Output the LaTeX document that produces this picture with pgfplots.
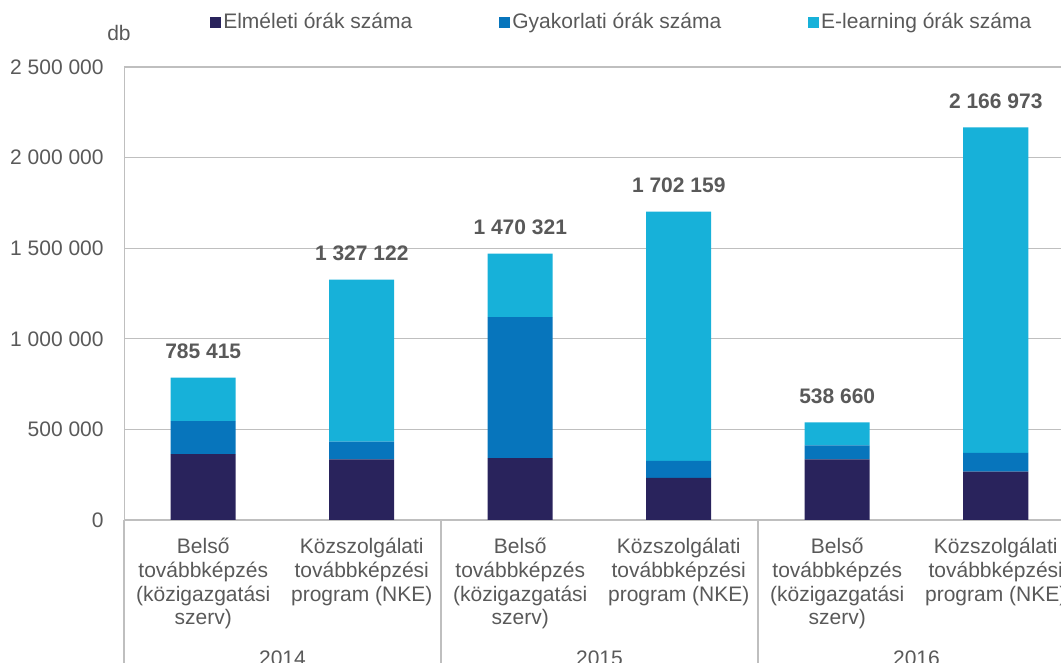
\documentclass[border=0pt]{standalone}
\usepackage{pgfplots}
\pgfplotsset{compat=1.18}
\usepackage{fontspec}
\setmainfont{Liberation Sans}
\definecolor{cEl}{HTML}{29235C}
\definecolor{cGy}{HTML}{0775BC}
\definecolor{cEL}{HTML}{17B1D9}
\definecolor{txt}{HTML}{595959}
\definecolor{grd}{HTML}{BFBFBF}
\pgfplotsset{geom/.style={
  at={(0pt,0pt)}, anchor=south west,
  scale only axis, width=475.5pt, height=226.5pt,
  xmin=-0.5, xmax=5.5, ymin=0, ymax=2500000,
  enlargelimits=false, clip=false}}
\begin{document}
\begin{tikzpicture}
\useasboundingbox (-62pt,-71.5pt) rectangle (468.5pt,260pt);
\clip (-62pt,-71.5pt) rectangle (468.5pt,260pt);
\begin{axis}[geom,
  ybar stacked, bar width=32.5pt,
  scaled y ticks=false,
  axis line style={draw=grd},
  ymajorgrids, grid style={draw=grd, line width=0.6pt},
  major tick length=0pt,
  ytick={0,500000,1000000,1500000,2000000,2500000},
  yticklabels={0,500 000,1 000 000,1 500 000,2 000 000,2 500 000},
  yticklabel style={anchor=east, inner sep=0pt, xshift=-10pt, text=txt, font=\fontsize{10.5}{12}\selectfont},
  xtick={0,1,2,3,4,5},
  xticklabels={{Belső\\továbbképzés\\(közigazgatási\\szerv)},{Közszolgálati\\továbbképzési\\program (NKE)},{Belső\\továbbképzés\\(közigazgatási\\szerv)},{Közszolgálati\\továbbképzési\\program (NKE)},{Belső\\továbbképzés\\(közigazgatási\\szerv)},{Közszolgálati\\továbbképzési\\program (NKE)}},
  xticklabel style={align=center, anchor=north, inner sep=0pt, yshift=-9pt, text=txt, font=\fontsize{10.5}{11.85}\selectfont},
  legend columns=3,
  legend style={at={(axis description cs:0.084,1.0993)}, anchor=west, draw=none, fill=none,
    font=\fontsize{10.5}{12}\selectfont, text=txt,
    /tikz/every even column/.append style={column sep=42.5pt},
    nodes={inner sep=1pt}},
  legend image code/.code={\fill[#1, draw=none] (0pt,-2.75pt) rectangle (5.5pt,2.75pt);},
]
\addplot[fill=cEl, draw=none] coordinates {(0,364000) (1,334000) (2,342000) (3,232000) (4,335000) (5,267000)};
\addlegendentry{Elméleti órák száma}
\addplot[fill=cGy, draw=none] coordinates {(0,182000) (1,98000) (2,778000) (3,94000) (4,77000) (5,103000)};
\addlegendentry{Gyakorlati órák száma}
\addplot[fill=cEL, draw=none] coordinates {(0,239415) (1,895122) (2,350321) (3,1376159) (4,126660) (5,1796973)};
\addlegendentry{E-learning órák száma}
\draw[grd, line width=0.6pt] (axis cs:-0.5,0) -- ([yshift=-80pt]axis cs:-0.5,0);
\draw[grd, line width=0.6pt] (axis cs:1.5,0) -- ([yshift=-80pt]axis cs:1.5,0);
\draw[grd, line width=0.6pt] (axis cs:3.5,0) -- ([yshift=-80pt]axis cs:3.5,0);
\node[text=txt, font=\fontsize{10.5}{12}\selectfont] at ([yshift=-69pt]axis cs:0.5,0) {2014};
\node[text=txt, font=\fontsize{10.5}{12}\selectfont] at ([yshift=-69pt]axis cs:2.5,0) {2015};
\node[text=txt, font=\fontsize{10.5}{12}\selectfont] at ([yshift=-69pt]axis cs:4.5,0) {2016};
\node[text=txt, font=\fontsize{10.5}{12}\selectfont] at (rel axis cs:-0.0053,1.075) {db};
\end{axis}
\begin{axis}[geom, hide axis,
  point meta=explicit symbolic,
  nodes near coords,
  every node near coord/.append style={anchor=south, font=\bfseries\fontsize{10.5}{12}\selectfont, text=txt, yshift=6pt}]
\addplot[draw=none, mark=none, only marks] coordinates {(0,785415) [785~415] (1,1327122) [1~327~122] (2,1470321) [1~470~321] (3,1702159) [1~702~159] (4,538660) [538~660] (5,2166973) [2~166~973]};
\end{axis}
\end{tikzpicture}
\end{document}
